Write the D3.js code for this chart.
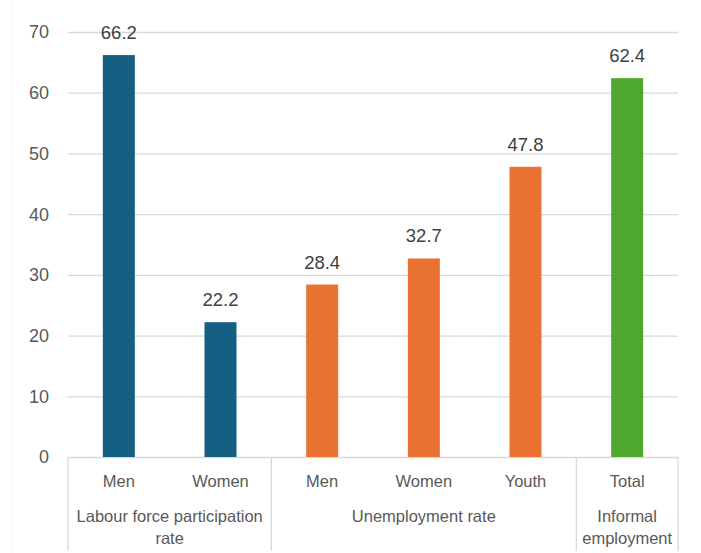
<!DOCTYPE html>
<html><head><meta charset="utf-8">
<script src="https://cdn.jsdelivr.net/npm/d3@7"></script>
<style>body{margin:0;background:#fff}svg{display:block}text{font-family:"Liberation Sans",Arial,sans-serif}</style>
</head><body><svg id="c" width="701" height="553"></svg>
<script>
const categories = ["Men","Women","Men","Women","Youth","Total"];
const groups = ["Labour force participation rate","Labour force participation rate","Unemployment rate","Unemployment rate","Unemployment rate","Informal employment"];
const groupNames = ["Labour force participation rate","Unemployment rate","Informal employment"];
const groupLines = [["Labour force participation","rate"],["Unemployment rate"],["Informal","employment"]];
const values = [66.2,22.2,28.4,32.7,47.8,62.4];
const colors = ["#156082","#156082","#E97132","#E97132","#E97132","#4EA72E"];
const yTicks = [0,10,20,30,40,50,60,70];

const svg = d3.select("#c");
const L=68,R=678,T=32,B=457;
const y = d3.scaleLinear().domain([0,70]).range([B,T]);
const x = d3.scaleBand().domain(d3.range(values.length)).range([L,R]);
const step = x.bandwidth();
const bw = 32;

svg.append("line").attr("x1",13).attr("x2",13).attr("y1",0).attr("y2",553).attr("stroke","#fbfbe6");

svg.append("g").selectAll("line").data(yTicks).join("line")
  .attr("x1",L).attr("x2",R).attr("y1",d=>y(d)+0.5).attr("y2",d=>y(d)+0.5)
  .attr("stroke","#d9d9d9").attr("stroke-width",1.3);
svg.append("g").selectAll("text").data(yTicks).join("text")
  .attr("x",49).attr("y",d=>y(d)).attr("dy","0.36em").attr("text-anchor","end")
  .attr("font-size",18).attr("fill","#595959").text(d=>d);

svg.append("g").selectAll("rect").data(values).join("rect")
  .attr("x",(d,i)=>x(i)+step/2-bw/2).attr("width",bw)
  .attr("y",d=>y(d)).attr("height",d=>B-y(d)).attr("fill",(d,i)=>colors[i]);
svg.append("g").selectAll("text").data(values).join("text")
  .attr("x",(d,i)=>x(i)+step/2).attr("y",d=>y(d)-16).attr("text-anchor","middle")
  .attr("font-size",18.5).attr("fill","#404040").text(d=>d.toFixed(1));

const gx = svg.append("g");
gx.selectAll("text.cat").data(categories).join("text").attr("class","cat")
  .attr("x",(d,i)=>x(i)+step/2).attr("y",487).attr("text-anchor","middle")
  .attr("font-size",16.5).attr("fill","#595959").text(d=>d);
const bounds=[0];
groupNames.forEach(g=>{bounds.push(bounds[bounds.length-1]+groups.filter(v=>v===g).length);});
gx.selectAll("line.sep").data(bounds).join("line").attr("class","sep")
  .attr("x1",d=>L+step*d).attr("x2",d=>L+step*d).attr("y1",B).attr("y2",551)
  .attr("stroke","#d9d9d9").attr("stroke-width",1.3);
groupNames.forEach((g,gi)=>{
  const cx = L+step*(bounds[gi]+bounds[gi+1])/2;
  groupLines[gi].forEach((ln,li)=>{
    gx.append("text").attr("x",cx).attr("y",522+li*22).attr("text-anchor","middle")
      .attr("font-size",16.5).attr("fill","#595959").text(ln);
  });
});
</script></body></html>
